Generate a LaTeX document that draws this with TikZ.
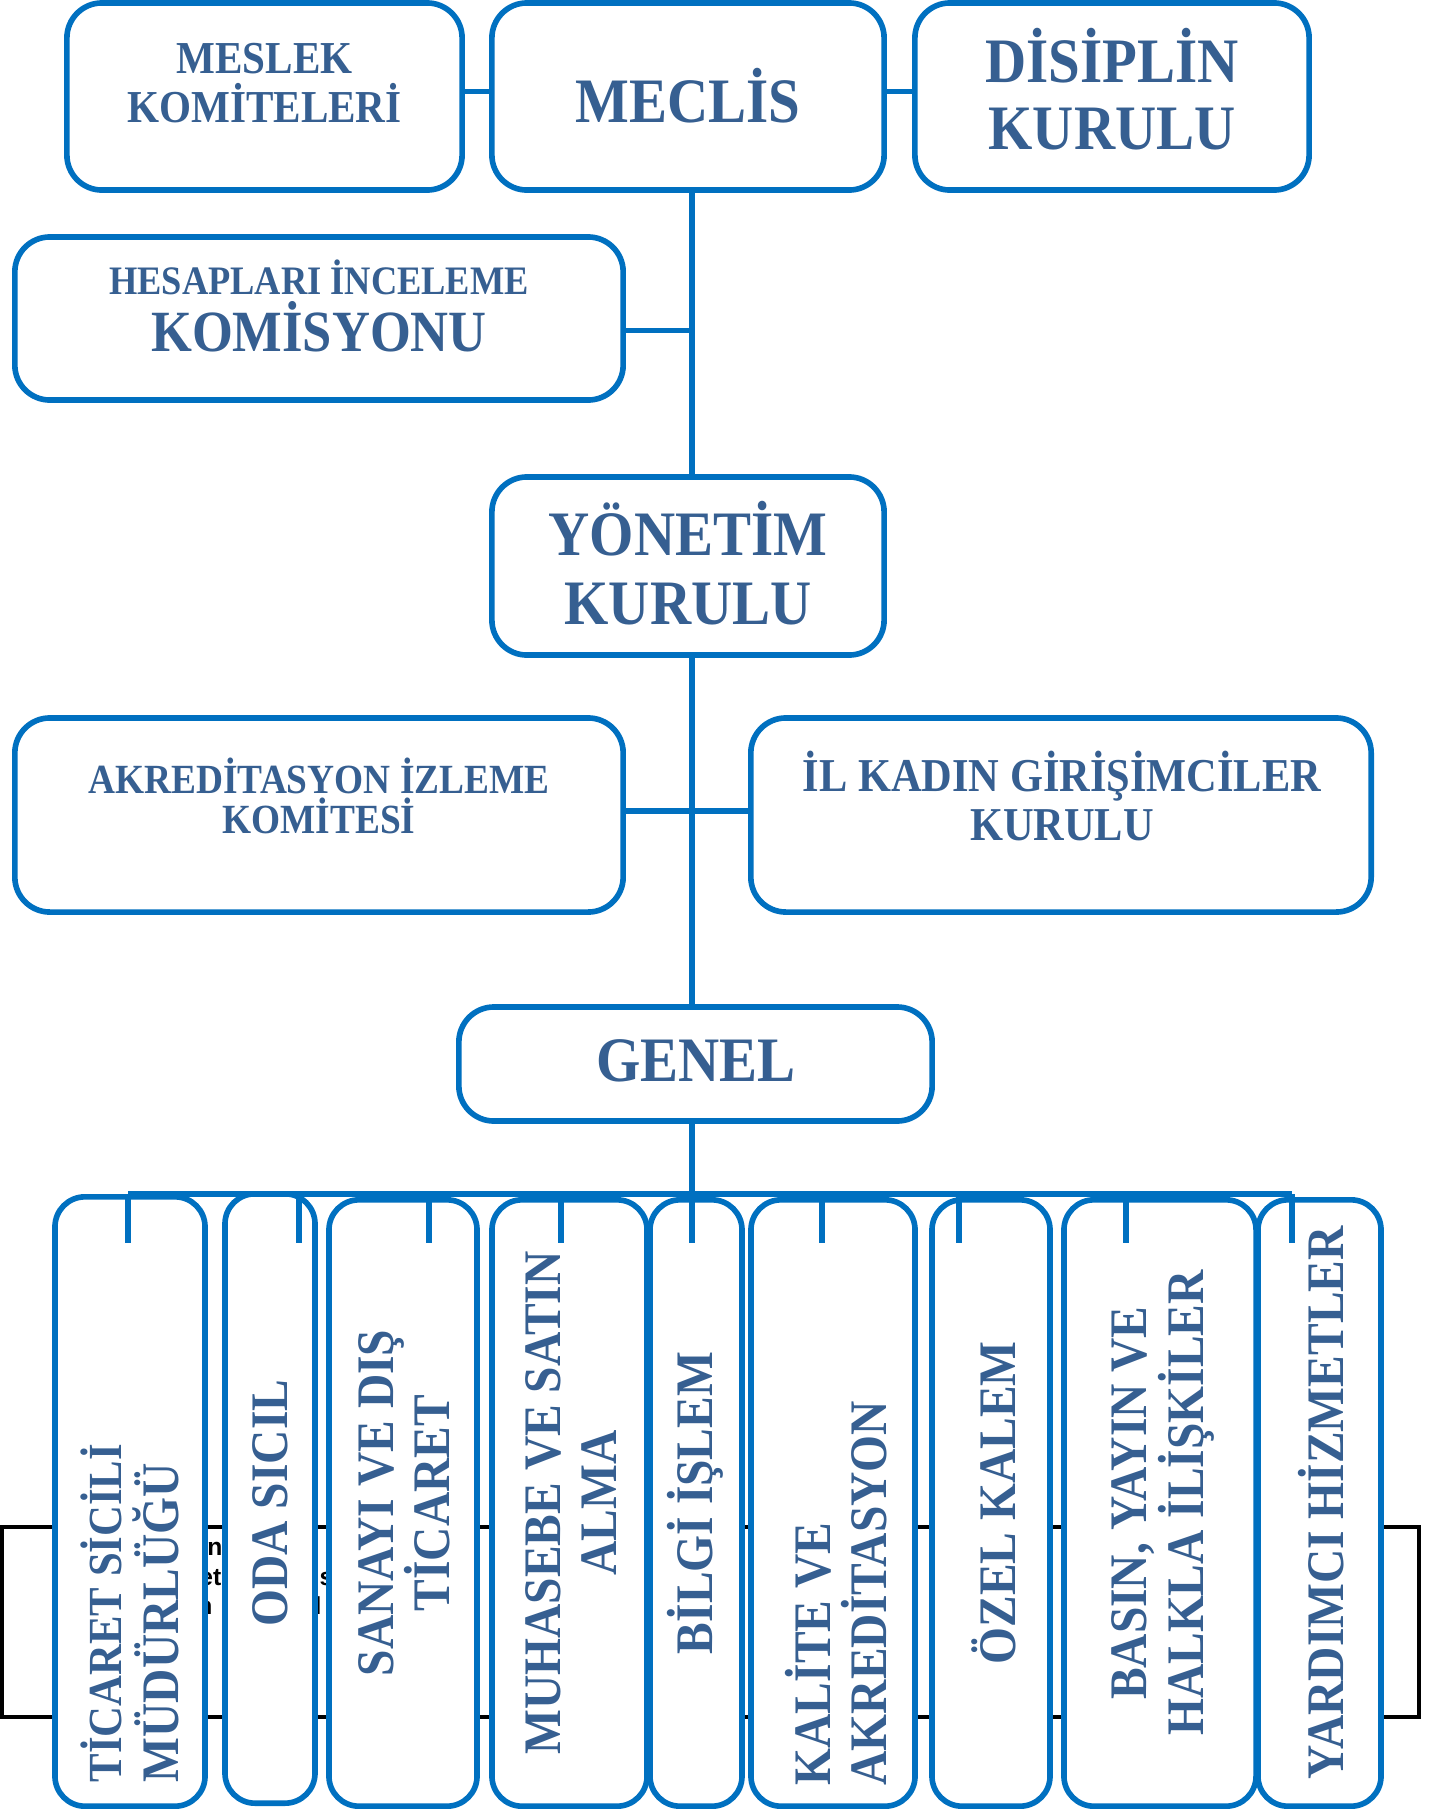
\documentclass[tikz,border=0pt]{standalone}
\usepackage{fontspec}
\newfontfamily\orgfont{Liberation Serif}[FakeStretch=0.9]
\newfontfamily\fragfont{Liberation Sans}
\usetikzlibrary{positioning,calc}
\definecolor{orgline}{RGB}{0,112,192}
\definecolor{orgtext}{RGB}{54,95,145}
\tikzset{
	orgbox/.style={draw=orgline, line width=1.6pt, rounded corners=0.35cm, fill=white, inner sep=0pt},
	unitbox/.style={orgbox, rounded corners=0.3cm},
	orgtxt/.style={text=orgtext, align=center, inner sep=0pt, font=\orgfont\bfseries},
	unittxt/.style={orgtxt, rotate=90, font=\orgfont\bfseries\fontsize{15}{16}\selectfont},
	conn/.style={draw=orgline, line width=1.6pt},
	frag/.style={inner sep=0pt, font=\fragfont\bfseries\fontsize{7}{8}\selectfont}
}
\begin{document}
\begin{tikzpicture}[x=0.01cm,y=-0.01cm]
\useasboundingbox (0,0) rectangle (1438,1809);

\draw[line width=1pt] (2,1527) rectangle (1419,1717);
\node[frag, anchor=base east] (fragA) at (223,1555) {atın};
\node[frag, anchor=base east] (fragB) at (222,1585) {ret};
\node[frag, anchor=base west] (fragC) at (319,1585) {s};
\node[frag, anchor=base east] (fragD) at (213,1614) {an};
\node[frag, anchor=base west] (fragE) at (314,1614) {l};

\node[orgbox, minimum width=3.95cm, minimum height=1.87cm] (meslek) at (264.5,96.5) {};
\node[orgbox, minimum width=3.92cm, minimum height=1.87cm] (meclis) at (688,96.5) {};
\node[orgbox, minimum width=3.94cm, minimum height=1.87cm] (disiplin) at (1112,96.5) {};
\node[orgbox, minimum width=6.08cm, minimum height=1.63cm] (hesap) at (319,318.5) {};
\node[orgbox, minimum width=3.92cm, minimum height=1.78cm] (yonetim) at (688,566) {};
\node[orgbox, minimum width=6.08cm, minimum height=1.94cm] (akred) at (319,815) {};
\node[orgbox, minimum width=6.20cm, minimum height=1.94cm] (ilkadin) at (1061,815) {};
\node[orgbox, minimum width=4.73cm, minimum height=1.14cm] (genel) at (695.5,1064) {};

\node[orgtxt, font=\orgfont\bfseries\fontsize{13}{14}\selectfont] (meslekT) at (264.5,83) {MESLEK\\KOMİTELERİ};
\node[orgtxt, font=\orgfont\bfseries\fontsize{18}{19}\selectfont] (meclisT) at (688,96) {MECLİS};
\node[orgtxt, font=\orgfont\bfseries\fontsize{18}{19}\selectfont] (disiplinT) at (1112,89) {DİSİPLİN\\KURULU};
\node[orgtxt, font=\orgfont\bfseries\fontsize{16.6}{16}\selectfont] (hesapT) at (319,306) {{\fontsize{11.5}{12}\selectfont HESAPLARI İNCELEME}\\KOMİSYONU};
\node[orgtxt, font=\orgfont\bfseries\fontsize{18}{19.6}\selectfont] (yonetimT) at (688,563) {YÖNETİM\\KURULU};
\node[orgtxt, font=\orgfont\bfseries\fontsize{11.8}{11.5}\selectfont] (akredT) at (319,796) {AKREDİTASYON İZLEME\\KOMİTESİ};
\node[orgtxt, font=\orgfont\bfseries\fontsize{13.4}{13.7}\selectfont] (ilkadinT) at (1062,796) {İL KADIN GİRİŞİMCİLER\\KURULU};
\node[orgtxt, font=\orgfont\bfseries\fontsize{18}{19}\selectfont] (genelT) at (696,1061) {GENEL};

\node[unitbox, minimum width=1.50cm, minimum height=6.09cm] (ticaret) at (130,1501.5) {};
\node[unitbox, minimum width=0.90cm, minimum height=6.09cm] (oda) at (270,1498.5) {};
\node[unitbox, minimum width=1.48cm, minimum height=6.06cm] (sanayi) at (403,1503) {};
\node[unitbox, minimum width=1.55cm, minimum height=6.06cm] (muhasebe) at (569.5,1503) {};
\node[unitbox, minimum width=0.92cm, minimum height=6.06cm] (bilgi) at (696,1503) {};
\node[unitbox, minimum width=1.64cm, minimum height=6.06cm] (kalite) at (833,1503) {};
\node[unitbox, minimum width=1.18cm, minimum height=6.06cm] (ozel) at (991,1503) {};
\node[unitbox, minimum width=1.92cm, minimum height=6.06cm] (basin) at (1160,1503) {};
\node[unitbox, minimum width=1.23cm, minimum height=6.06cm] (yardimci) at (1319.5,1503) {};

\node[unittxt, anchor=west, align=left] (ticaretT) at (130,1783) {{\fontsize{13.5}{14}\selectfont TİCARET SİCİLİ}\\MÜDÜRLÜĞÜ};
\node[unittxt] (odaT) at (270,1503) {ODA SICIL};
\node[unittxt] (sanayiT) at (404,1503) {SANAYI VE DIŞ\\TİCARET};
\node[unittxt] (muhasebeT) at (571,1503) {MUHASEBE VE SATIN\\ALMA};
\node[unittxt] (bilgiT) at (695,1503) {BİLGİ İŞLEM};
\node[unittxt, anchor=west, align=left] (kaliteT) at (836,1786) {KALİTE VE\\AKREDİTASYON};
\node[unittxt] (ozelT) at (994,1503) {ÖZEL KALEM};
\node[unittxt] (basinT) at (1163,1503) {BASIN, YAYIN VE\\HALKLA İLİŞKİLER};
\node[unittxt] (yardimciT) at (1321,1503) {YARDIMCI HİZMETLER};

\coordinate (trunk) at (692,0);
\coordinate (busL) at (128,1194);
\coordinate (busR) at (1292,1194);
\coordinate (hesapC) at ([yshift=-0.12cm]hesap.east);
\draw[conn] ([yshift=0.05cm]meslek.east) -- ([yshift=0.05cm]meclis.west);
\draw[conn] ([yshift=0.05cm]meclis.east) -- ([yshift=0.05cm]disiplin.west);
\draw[conn] (trunk |- meclis.south) -- (trunk |- yonetim.north);
\draw[conn] (hesapC) -- (trunk |- hesapC);
\draw[conn] (trunk |- yonetim.south) -- (trunk |- genel.north);
\draw[conn] ([yshift=0.04cm]akred.east) -- ([yshift=0.04cm]ilkadin.west);
\draw[conn] (trunk |- genel.south) -- (trunk |- busL);
\draw[conn] (busL) -- (busR);
\foreach \x [count=\i] in {128,299,429,561,692,822,959,1126,1292}
	\coordinate (t\i) at (\x,1243);
\foreach \i in {1,...,9}
	\draw[conn] (t\i |- busL) -- (t\i);
\end{tikzpicture}
\end{document}
